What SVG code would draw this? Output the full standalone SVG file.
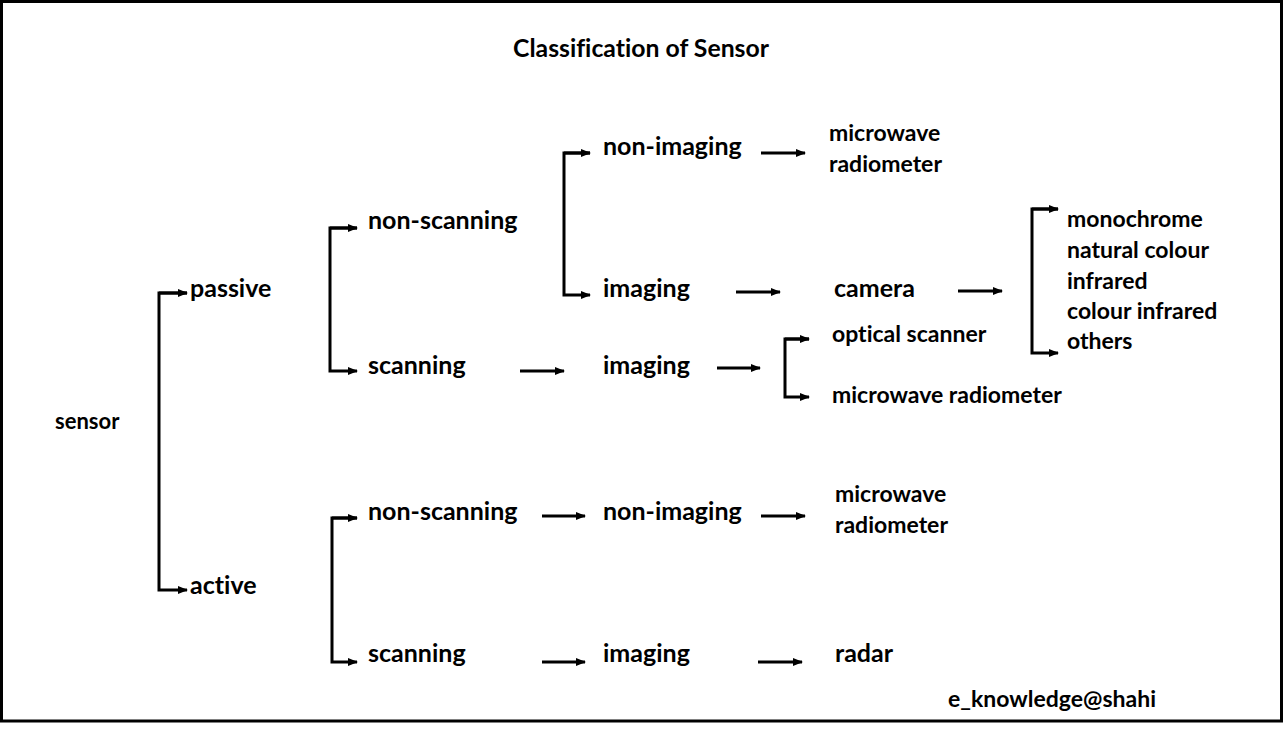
<svg xmlns="http://www.w3.org/2000/svg" width="1283" height="733" viewBox="0 0 1283 733">
<style>
text{font-family:Lato,"Liberation Sans",sans-serif;font-weight:bold;fill:#000;font-variant-ligatures:none}
.m{font-size:25px}
.s{font-size:23px}
.t{font-size:22px}
.h{font-size:24px}
.c line,.c polyline{stroke:#000;stroke-width:3;fill:none}
</style>
<defs>
<marker id="ah" markerUnits="userSpaceOnUse" markerWidth="10" markerHeight="10" viewBox="0 0 10 10" refX="9" refY="5" orient="auto">
<path d="M0,1 L10,5 L0,9 Z" fill="#000"/>
</marker>
</defs>
<rect x="0" y="0" width="1283" height="733" fill="#fff"/>
<rect x="1.5" y="1.5" width="1280" height="719.5" fill="none" stroke="#000" stroke-width="3"/>
<text class="h" x="513" y="57" id="title" textLength="256" lengthAdjust="spacingAndGlyphs">Classification of Sensor</text>
<g class="c" id="connectors">
<polyline points="187,293 159,293 159,590 187,590" marker-end="url(#ah)"/>
<line x1="159" y1="293" x2="187" y2="293" marker-end="url(#ah)"/>
<polyline points="357,228 330,228 330,371 357,371" marker-end="url(#ah)"/>
<line x1="330" y1="228" x2="357" y2="228" marker-end="url(#ah)"/>
<polyline points="590,153 564,153 564,295 590,295" marker-end="url(#ah)"/>
<line x1="564" y1="153" x2="590" y2="153" marker-end="url(#ah)"/>
<line x1="761" y1="153" x2="805" y2="153" marker-end="url(#ah)"/>
<line x1="736" y1="292" x2="780" y2="292" marker-end="url(#ah)"/>
<line x1="958" y1="291" x2="1002" y2="291" marker-end="url(#ah)"/>
<polyline points="1058,209 1032,209 1032,353 1058,353" marker-end="url(#ah)"/>
<line x1="1032" y1="209" x2="1058" y2="209" marker-end="url(#ah)"/>
<line x1="520" y1="371" x2="564" y2="371" marker-end="url(#ah)"/>
<line x1="717" y1="368" x2="760" y2="368" marker-end="url(#ah)"/>
<polyline points="809,339 785,339 785,397 809,397" marker-end="url(#ah)"/>
<line x1="785" y1="339" x2="809" y2="339" marker-end="url(#ah)"/>
<polyline points="357,518 332,518 332,662 357,662" marker-end="url(#ah)"/>
<line x1="332" y1="518" x2="357" y2="518" marker-end="url(#ah)"/>
<line x1="542" y1="516" x2="585" y2="516" marker-end="url(#ah)"/>
<line x1="542" y1="662" x2="585" y2="662" marker-end="url(#ah)"/>
<line x1="761" y1="516" x2="805" y2="516" marker-end="url(#ah)"/>
<line x1="758" y1="662" x2="802" y2="662" marker-end="url(#ah)"/>
</g>
<g id="sensor"><text class="t" x="55" y="429">sensor</text></g>
<g id="passive"><text class="m" x="190" y="297">passive</text></g>
<g id="active"><text class="m" x="190" y="594">active</text></g>
<g id="p-nonscanning"><text class="m" x="368" y="229">non-scanning</text></g>
<g id="p-scanning"><text class="m" x="368" y="374">scanning</text></g>
<g id="p-ns-nonimaging"><text class="m" x="603" y="155">non-imaging</text></g>
<g id="p-ns-imaging"><text class="m" x="603" y="297">imaging</text></g>
<g id="p-s-imaging"><text class="m" x="603" y="374">imaging</text></g>
<g id="p-mw-radiometer"><text class="s" x="829" y="141">microwave</text><text class="s" x="829" y="172">radiometer</text></g>
<g id="camera"><text class="m" x="834" y="297">camera</text></g>
<g id="camera-types">
<text class="s" x="1067" y="227">monochrome</text>
<text class="s" x="1067" y="258">natural colour</text>
<text class="s" x="1067" y="289">infrared</text>
<text class="s" x="1067" y="319">colour infrared</text>
<text class="s" x="1067" y="349">others</text>
</g>
<g id="optical-scanner"><text class="s" x="832" y="342">optical scanner</text></g>
<g id="s-mw-radiometer"><text class="s" x="832" y="403">microwave radiometer</text></g>
<g id="a-nonscanning"><text class="m" x="368" y="520">non-scanning</text></g>
<g id="a-scanning"><text class="m" x="368" y="662">scanning</text></g>
<g id="a-nonimaging"><text class="m" x="603" y="520">non-imaging</text></g>
<g id="a-imaging"><text class="m" x="603" y="662">imaging</text></g>
<g id="a-mw-radiometer"><text class="s" x="835" y="502">microwave</text><text class="s" x="835" y="533">radiometer</text></g>
<g id="radar"><text class="m" x="835" y="662">radar</text></g>
<text class="s" x="948" y="707" id="credit">e_knowledge@shahi</text>
</svg>
